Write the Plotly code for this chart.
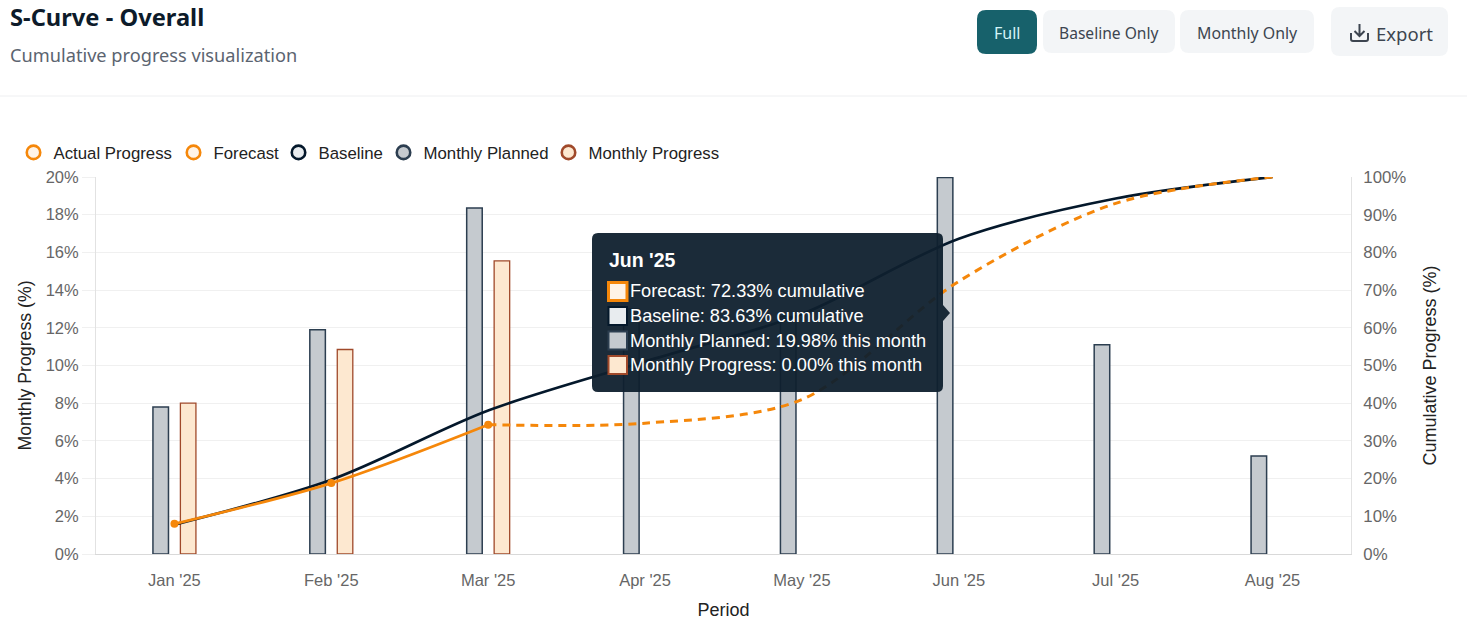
import plotly.graph_objects as go

months = ["Jan '25", "Feb '25", "Mar '25", "Apr '25", "May '25", "Jun '25", "Jul '25", "Aug '25"]
monthly_planned = [7.8, 11.9, 18.35, 13.0, 12.6, 19.98, 11.1, 5.2]
monthly_progress = [8.0, 10.85, 15.55, None, None, None, None, None]
baseline = [7.8, 19.7, 38.05, 51.05, 63.65, 83.63, 94.3, 100]
actual = [8.0, 18.8, 34.3, None, None, None, None, None]
forecast = [None, None, 34.3, 34.7, 41.0, 72.33, 93.0, 100]

W, H = 1467, 635
L, R, T, B = 96, 1351, 177, 554
ORANGE = "#f5870a"
NAVY = "#04182b"
TIP = "rgba(15,32,46,0.95)"

def px(x): return (x - L) / (R - L)
def py(y): return (B - y) / (B - T)

def rrect(x0, y0, x1, y1, r, fill, line=None):
    p = (f"M {px(x0+r)} {py(y0)} L {px(x1-r)} {py(y0)} Q {px(x1)} {py(y0)} {px(x1)} {py(y0+r)} "
         f"L {px(x1)} {py(y1-r)} Q {px(x1)} {py(y1)} {px(x1-r)} {py(y1)} L {px(x0+r)} {py(y1)} "
         f"Q {px(x0)} {py(y1)} {px(x0)} {py(y1-r)} L {px(x0)} {py(y0+r)} Q {px(x0)} {py(y0)} {px(x0+r)} {py(y0)} Z")
    return dict(type="path", path=p, xref="paper", yref="paper", fillcolor=fill,
                line=dict(width=0 if line is None else 1, color=line or fill), layer="above")

def label(text, x, y, size, color, family="Liberation Sans, Arial", anchor="left", bold=False):
    t = f"<b>{text}</b>" if bold else text
    return dict(text=t, x=px(x), y=py(y), xref="paper", yref="paper", xanchor=anchor, yanchor="middle",
                showarrow=False, font=dict(size=size, color=color, family=family), borderpad=0)

fig = go.Figure()
fig.add_bar(x=months, y=monthly_planned, name="Monthly Planned", yaxis="y", showlegend=False,
            marker=dict(color="#c5cacf", line=dict(color="#2c3e50", width=1.5)))
fig.add_bar(x=months, y=monthly_progress, name="Monthly Progress", yaxis="y", showlegend=False,
            marker=dict(color="#fde8d0", line=dict(color="#a0492a", width=1.3)))
fig.add_scatter(x=months, y=baseline, name="Baseline", yaxis="y2", mode="lines", showlegend=False,
                line=dict(color=NAVY, width=2.7, shape="spline", smoothing=0.9))
fig.add_scatter(x=months, y=forecast, name="Forecast", yaxis="y2", mode="lines", showlegend=False,
                line=dict(color=ORANGE, width=3, dash="8px,6px", shape="spline", smoothing=0.9))
fig.add_scatter(x=months, y=actual, name="Actual Progress", yaxis="y2", mode="lines+markers", showlegend=False,
                line=dict(color=ORANGE, width=2.7, shape="spline", smoothing=0.9),
                marker=dict(color=ORANGE, size=8))

# Legend entries are circles in the reference; one legend per entry so each sits at its own place
entries = [("Actual Progress", "#fff3e6", ORANGE, 33.5), ("Forecast", "#fff3e6", ORANGE, 193.5),
           ("Baseline", "#e8ecef", NAVY, 298.5), ("Monthly Planned", "#c5cacf", "#2c3e50", 403.5),
           ("Monthly Progress", "#fde8d0", "#a0492a", 568.5)]
legends = {}
for i, (name, fill, edge, cx) in enumerate(entries):
    key = "legend" if i == 0 else f"legend{i + 1}"
    fig.add_scatter(x=[months[0]], y=[None], name=name, mode="markers", yaxis="y2", legend=key,
                    marker=dict(size=13.5, color=fill, line=dict(color=edge, width=2.6)))
    legends[key] = dict(orientation="h", x=px(cx - 20), y=py(135), xanchor="left", yanchor="top",
                        font=dict(size=16.8, color="#222222"), itemsizing="trace",
                        bgcolor="rgba(0,0,0,0)")

shapes = [
    dict(type="line", xref="paper", yref="paper", x0=px(0), x1=px(W), y0=py(96), y1=py(96),
         line=dict(color="#eeeff1", width=1)),
    rrect(977, 10, 1037, 54, 9, "#17616b"),
    rrect(1043, 10, 1175, 53, 9, "#f3f5f7"),
    rrect(1180, 10, 1314, 53, 9, "#f3f5f7"),
    rrect(1331, 7, 1448, 56, 9, "#f3f5f7"),
    # export icon
    dict(type="path", xref="paper", yref="paper", layer="above", line=dict(color="#3d4550", width=2),
         path=(f"M {px(1351)} {py(33)} L {px(1351)} {py(39)} Q {px(1351)} {py(41)} {px(1353)} {py(41)} "
               f"L {px(1366)} {py(41)} Q {px(1368)} {py(41)} {px(1368)} {py(39)} L {px(1368)} {py(33)} "
               f"M {px(1359.5)} {py(24)} L {px(1359.5)} {py(36)} "
               f"M {px(1354.5)} {py(31)} L {px(1359.5)} {py(36)} L {px(1364.5)} {py(31)}")),
    # tooltip
    rrect(592, 233, 943, 392, 6, TIP),
    dict(type="path", xref="paper", yref="paper", layer="above", line=dict(width=0),
         fillcolor=TIP,
         path=f"M {px(943)} {py(305)} L {px(950)} {py(313)} L {px(943)} {py(321)} Z"),
]
for y, fill, edge, w in [(291.5, "#fff3e6", ORANGE, 3), (316, "#e8ecef", NAVY, 2),
                         (340.5, "#c5cacf", "#2c3e50", 2), (365, "#fde8d0", "#a0492a", 2)]:
    shapes.append(dict(type="rect", xref="paper", yref="paper", layer="above",
                       x0=px(608.5), x1=px(627), y0=py(y - 9), y1=py(y + 9),
                       fillcolor=fill, line=dict(color=edge, width=w)))

annotations = [
    label("S-Curve - Overall", 9, 17, 23.7, "#0d1b2a", "Noto Sans", bold=True),
    label("Cumulative progress visualization", 9, 55, 18.2, "#5b6470", "Noto Sans"),
    label("Full", 1007, 33, 16, "#d5f5f8", "Noto Sans", "center"),
    label("Baseline Only", 1109, 33, 15.6, "#3d4550", "Noto Sans", "center"),
    label("Monthly Only", 1247, 33, 15.9, "#3d4550", "Noto Sans", "center"),
    label("Export", 1404, 33, 18.5, "#3d4550", "Noto Sans", "center"),
    label("Jun '25", 608, 260, 19.5, "#ffffff", bold=True),
    label("Forecast: 72.33% cumulative", 629, 291, 18.2, "#ffffff"),
    label("Baseline: 83.63% cumulative", 629, 316, 18.2, "#ffffff"),
    label("Monthly Planned: 19.98% this month", 629, 341, 18.2, "#ffffff"),
    label("Monthly Progress: 0.00% this month", 629, 365, 18.2, "#ffffff"),
]

fig.update_layout(
    width=W, height=H, autosize=False, paper_bgcolor="white", plot_bgcolor="white",
    margin=dict(l=L, r=W - R, t=T, b=H - B, pad=0),
    font=dict(family="Liberation Sans, Arial", size=16, color="#666666"),
    barmode="group", bargap=0.65, bargroupgap=0.434,
    xaxis=dict(type="category", categoryorder="array", categoryarray=months, showgrid=False,
               showline=True, linecolor="#d9d9d9", linewidth=1, ticks="outside", ticklen=11,
               tickcolor="rgba(0,0,0,0)", tickfont=dict(size=16.5, color="#666666"),
               title=dict(text="Period", font=dict(size=18, color="#222222"), standoff=15)),
    yaxis=dict(range=[0, 20], tickvals=list(range(0, 21, 2)), ticktext=[f"{v}%" for v in range(0, 21, 2)],
               showgrid=True, gridcolor="#f0f0f0", gridwidth=1, zeroline=False, showline=True,
               linecolor="#e2e2e2", tickfont=dict(size=16.5, color="#666666"), ticks="outside", ticklen=13,
               tickcolor="#f0f0f0",
               title=dict(text="Monthly Progress (%)", font=dict(size=17.7, color="#222222"), standoff=9)),
    yaxis2=dict(range=[0, 100], overlaying="y", side="right", tickvals=list(range(0, 101, 10)),
                ticktext=[f"{v}%" for v in range(0, 101, 10)], showgrid=False, zeroline=False,
                showline=True, linecolor="#e2e2e2", tickfont=dict(size=16.8, color="#666666"),
                ticks="outside", ticklen=8, tickcolor="rgba(0,0,0,0)",
                title=dict(text="Cumulative Progress (%)", font=dict(size=18, color="#222222"), standoff=18)),
    shapes=shapes, annotations=annotations, showlegend=True,
    **legends,
)

fig.write_html("out.html", config=dict(displayModeBar=False),
               post_script="document.body.style.margin='0';document.body.style.overflow='hidden';")
